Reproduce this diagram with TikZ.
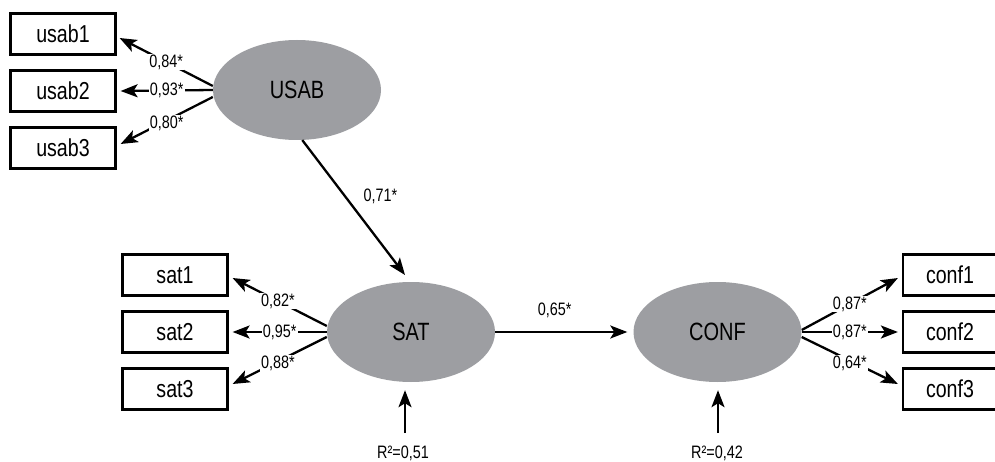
\documentclass[tikz,border=0pt]{standalone}
\usepackage{fontspec}
\setmainfont{Liberation Sans}[FakeStretch=0.8]
\usetikzlibrary{arrows.meta,backgrounds,shapes.geometric}
\definecolor{latent}{RGB}{157,158,162}
\tikzset{
  indicator/.style={draw, line width=2.2pt, minimum width=105pt, minimum height=41pt,
    inner sep=0pt, font=\fontsize{24.5}{26}\selectfont},
  construct/.style={ellipse, fill=latent, minimum width=168pt, minimum height=100pt,
    inner sep=0pt, font=\fontsize{25}{27}\selectfont},
  path arrow/.style={line width=2.3pt, -{Stealth[length=17pt,width=13pt,inset=4pt]}},
  loading/.style={fill=white, inner sep=1pt, font=\fontsize{18}{20}\selectfont},
  coef/.style={inner sep=0pt, font=\fontsize{18}{20}\selectfont}
}
\begin{document}
\begin{tikzpicture}[x=1pt,y=1pt]
\useasboundingbox (0,0) rectangle (995,461);

% latent constructs
\node[construct] (usab) at (297,371) {USAB};
\node[construct] (sat)  at (411,129) {SAT};
\node[construct] (conf) at (717.5,129) {CONF};

% observed indicators
\node[indicator] (u1) at (63,427) {usab1};
\node[indicator] (u2) at (63,370) {usab2};
\node[indicator] (u3) at (63,313) {usab3};
\node[indicator] (s1) at (175,186) {sat1};
\node[indicator] (s2) at (175,129) {sat2};
\node[indicator] (s3) at (175,72)  {sat3};
\node[indicator, minimum width=94pt] (c1) at (950,186) {conf1};
\node[indicator, minimum width=94pt] (c2) at (950,129) {conf2};
\node[indicator, minimum width=94pt] (c3) at (950,72)  {conf3};

% explained variance
\node[coef] (r1) at (403,8) {R²=0,51};
\node[coef] (r2) at (717,8) {R²=0,42};
\coordinate (r1top) at (405,28);
\coordinate (r2top) at (718,28);

\begin{scope}[on background layer]
  % measurement model: USAB
  \draw[path arrow] ([yshift=4pt]usab.west) -- ([xshift=3pt,yshift=-4pt]u1.east)
    node[loading, pos=0.5] {0,84*};
  \draw[path arrow] (usab.west) -- ([xshift=4pt]u2.east)
    node[loading, pos=0.5] {0,93*};
  \draw[path arrow] ([yshift=-7pt]usab.west) -- ([xshift=4pt,yshift=4pt]u3.east)
    node[loading, pos=0.5, yshift=-3pt] {0,80*};
  % measurement model: SAT
  \draw[path arrow] ([yshift=6pt]sat.west) -- ([xshift=4pt,yshift=-3pt]s1.east)
    node[loading, pos=0.52] {0,82*};
  \draw[path arrow] (sat.west) -- ([xshift=4pt]s2.east)
    node[loading, pos=0.5] {0,95*};
  \draw[path arrow] ([yshift=-5pt]sat.west) -- ([xshift=4pt,yshift=5pt]s3.east)
    node[loading, pos=0.52, yshift=-2pt] {0,88*};
  % measurement model: CONF
  \draw[path arrow] ([yshift=2pt]conf.east) -- ([xshift=-4pt,yshift=-3pt]c1.west)
    node[loading, pos=0.5] {0,87*};
  \draw[path arrow] (conf.east) -- ([xshift=-4pt]c2.west)
    node[loading, pos=0.5] {0,87*};
  \draw[path arrow] ([yshift=-5pt]conf.east) -- ([xshift=-4pt,yshift=5pt]c3.west)
    node[loading, pos=0.5, yshift=-3pt] {0,64*};
\end{scope}

% structural model
\draw[path arrow] (usab.-84) -- ([xshift=-6pt,yshift=57pt]sat.center)
  node[coef, pos=0.42, anchor=west, xshift=17pt] {0,71*};
\draw[path arrow] (sat.east) -- ([xshift=-6pt]conf.west)
  node[coef, pos=0.45, yshift=22pt] {0,65*};
\draw[path arrow] (r1top) -- ([xshift=-6pt,yshift=-8pt]sat.south);
\draw[path arrow] (r2top) -- ([xshift=0.5pt,yshift=-8pt]conf.south);
\end{tikzpicture}
\end{document}
